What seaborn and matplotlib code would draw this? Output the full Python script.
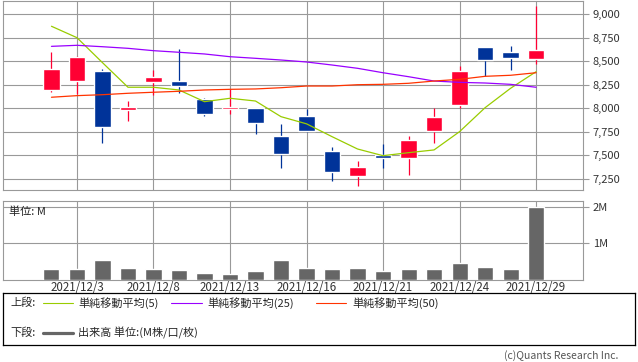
import numpy as np
import pandas as pd
import matplotlib
matplotlib.use("Agg")
import matplotlib.pyplot as plt
import seaborn as sns

# data
dates = ["12/2", "12/3", "12/6", "12/7", "12/8", "12/9", "12/10", "12/13", "12/14", "12/15",
         "12/16", "12/17", "12/20", "12/21", "12/22", "12/23", "12/24", "12/27", "12/28", "12/29"]
opens = [8197, 8293, 8395, 7985, 8282, 8289, 8098, 7992, 8003, 7706,
         7918, 7547, 7285, 7501, 7476, 7762, 8038, 8650, 8597, 8523]
highs = [8600, 8555, 8417, 8081, 8409, 8629, 8109, 8201, 8003, 7833,
         7996, 7589, 7441, 7621, 7706, 8003, 8449, 8650, 8664, 9088]
lows = [8176, 8152, 7635, 7868, 8141, 8165, 7922, 7943, 7730, 7370,
        7752, 7232, 7179, 7370, 7296, 7635, 7998, 8339, 8409, 8473]
closes = [8417, 8544, 7805, 8014, 8332, 8240, 7943, 8014, 7847, 7518,
          7762, 7328, 7377, 7476, 7664, 7908, 8395, 8512, 8537, 8621]
ma5 = [8870, 8749, 8484, 8223, 8223, 8194, 8070, 8106, 8077, 7911,
       7835, 7699, 7568, 7497, 7529, 7558, 7752, 8006, 8212, 8388]
ma25 = [8657, 8668, 8653, 8636, 8611, 8594, 8576, 8547, 8530, 8512,
        8491, 8459, 8424, 8377, 8335, 8289, 8275, 8268, 8254, 8223]
ma50 = [8117, 8134, 8144, 8159, 8170, 8180, 8194, 8201, 8205, 8218,
        8236, 8236, 8250, 8254, 8265, 8289, 8307, 8339, 8350, 8377]
volume = [0.30, 0.30, 0.54, 0.32, 0.30, 0.27, 0.19, 0.16, 0.24, 0.54,
          0.32, 0.30, 0.32, 0.24, 0.30, 0.30, 0.46, 0.35, 0.30, 1.98]
price_ticks = [7250, 7500, 7750, 8000, 8250, 8500, 8750, 9000]
date_tick_idx = [1, 4, 7, 10, 13, 16, 19]

UP = "#ff0033"
DOWN = "#003399"
GRID = "#999999"
TXT = "#333333"

sns.set_style("white")
plt.rcParams['font.family'] = ['Noto Sans CJK JP', 'DejaVu Sans']
plt.rcParams['font.size'] = 8

df = pd.DataFrame({"i": np.arange(len(dates)), "open": opens, "high": highs, "low": lows,
                   "close": closes, "ma5": ma5, "ma25": ma25, "ma50": ma50, "vol": volume})
df["up"] = df["close"] >= df["open"]

fig = plt.figure(figsize=(6.38, 3.62), dpi=100)
W, H = 638, 362
xlim = (-1.9, 20.84)

def style_axes(ax):
    for s in ax.spines.values():
        s.set_color(GRID)
        s.set_linewidth(0.8)
    ax.yaxis.tick_right()
    ax.tick_params(axis="y", which="both", right=True, left=False, length=4, color=GRID,
                   width=0.8, labelsize=8, labelcolor=TXT, pad=3)
    ax.grid(True, color=GRID, linewidth=0.8)
    ax.set_axisbelow(True)
    ax.set_xlim(*xlim)
    ax.set_xticks(date_tick_idx)
    ax.set_xlabel("")
    ax.set_ylabel("")

# upper panel: candles + moving averages
ax = fig.add_axes([3 / W, 1 - 190 / H, 580 / W, 189 / H])
colors = np.where(df["up"], UP, DOWN)
ax.vlines(df["i"], df["low"], df["high"], colors=colors, linewidth=0.9, zorder=2)
ax.bar(df["i"], (df["close"] - df["open"]).abs(), bottom=df[["open", "close"]].min(axis=1),
       width=0.65, color=colors, zorder=3)
sns.lineplot(data=df, x="i", y="ma5", ax=ax, color="#99cc00", linewidth=0.9, zorder=4)
sns.lineplot(data=df, x="i", y="ma25", ax=ax, color="#9900ff", linewidth=0.9, zorder=4)
sns.lineplot(data=df, x="i", y="ma50", ax=ax, color="#ff3300", linewidth=0.9, zorder=4)
style_axes(ax)
ax.set_ylim(7133, 9138)
ax.set_yticks(price_ticks)
ax.set_yticklabels([f"{v:,}" for v in price_ticks])
ax.tick_params(axis="x", length=0, labelbottom=False)

# lower panel: volume
axv = fig.add_axes([3 / W, 1 - 280 / H, 580 / W, 79 / H])
sns.barplot(data=df, x="i", y="vol", ax=axv, color="#666666", width=0.63,
            saturation=1, native_scale=True, zorder=3)
style_axes(axv)
axv.set_ylim(0, 2.156)
axv.set_yticks([1, 2])
axv.set_yticklabels(["1M", "2M"])
axv.set_xticklabels([f"2021/{dates[i]}" for i in date_tick_idx])
axv.tick_params(axis="x", length=0, labelsize=8.3, labelcolor=TXT, pad=1)
axv.text(0.01, 0.86, "単位: M", transform=axv.transAxes, fontsize=8, color="#222222",
         ha="left", va="center")

# legend box
leg = fig.add_axes([3 / W, 1 - 345 / H, 632 / W, 52 / H])
leg.set_xlim(3, 635)
leg.set_ylim(345, 293)
leg.set_xticks([])
leg.set_yticks([])
for s in leg.spines.values():
    s.set_color("#000000")
    s.set_linewidth(0.9)
y1, y2 = 303, 333
leg.text(10, y1, "上段:", va="center", ha="left", fontsize=8)
leg.plot([43, 73], [y1, y1], color="#99cc00", lw=0.8)
leg.text(78, y1, "単純移動平均(5)", va="center", ha="left", fontsize=8)
leg.plot([171, 202], [y1, y1], color="#9900ff", lw=0.8)
leg.text(207, y1, "単純移動平均(25)", va="center", ha="left", fontsize=8)
leg.plot([316, 346], [y1, y1], color="#ff3300", lw=0.8)
leg.text(352, y1, "単純移動平均(50)", va="center", ha="left", fontsize=8)
leg.text(10, y2, "下段:", va="center", ha="left", fontsize=8)
leg.plot([43, 73], [y2, y2], color="#666666", lw=2.3)
leg.text(78, y2, "出来高 単位:(M株/口/枚)", va="center", ha="left", fontsize=8)

fig.text(618 / W, 1 - 356 / H, "(c)Quants Research Inc.", ha="right", va="center",
         fontsize=7.5, color="#555555")

fig.savefig("out.png", dpi=100)
